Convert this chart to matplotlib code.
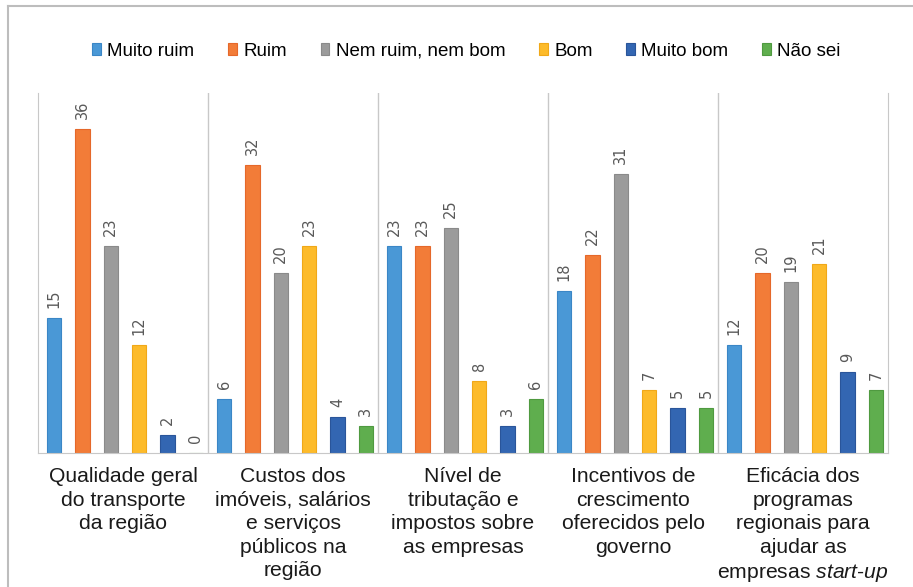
import numpy as np
import matplotlib.pyplot as plt
from matplotlib.lines import Line2D

plt.rcParams['font.family'] = ['Liberation Sans', 'DejaVu Sans']
plt.rcParams['mathtext.fontset'] = 'custom'
plt.rcParams['mathtext.rm'] = 'Liberation Sans'
plt.rcParams['mathtext.it'] = 'Liberation Sans:italic'

categories = [
    "Qualidade geral\ndo transporte\nda região",
    "Custos dos\nimóveis, salários\ne serviços\npúblicos na\nregião",
    "Nível de\ntributação e\nimpostos sobre\nas empresas",
    "Incentivos de\ncrescimento\noferecidos pelo\ngoverno",
    "Eficácia dos\nprogramas\nregionais para\najudar as\nempresas $\\mathit{start}$-$\\mathit{up}$",
]
series = ["Muito ruim", "Ruim", "Nem ruim, nem bom", "Bom", "Muito bom", "Não sei"]
muito_ruim = [15, 6, 23, 18, 12]
ruim = [36, 32, 23, 22, 20]
nem = [23, 20, 25, 31, 19]
bom = [12, 23, 8, 7, 21]
muito_bom = [2, 4, 3, 5, 9]
nao_sei = [0, 3, 6, 5, 7]
values = [muito_ruim, ruim, nem, bom, muito_bom, nao_sei]

colors = ["#4a98d6", "#f27c38", "#9b9b9b", "#fdbb2a", "#3366b2", "#5fae4e"]
edges = ["#3a86c6", "#e5682a", "#8a8a8a", "#f0a818", "#2a559a", "#4f9a40"]

fig = plt.figure(figsize=(9.13, 5.87), dpi=100)
ax = fig.add_axes([38 / 913, 134 / 587, 850 / 913, 360 / 587])

n = len(series)
width = 0.5 / n
x = np.arange(len(categories))
for j, (name, vals) in enumerate(zip(series, values)):
    pos = x + (j + 0.5) / n + 0.012
    bars = ax.bar(pos, vals, width, color=colors[j], edgecolor=edges[j],
                  linewidth=0.8, label=name, zorder=2)
    for b, v in zip(bars, vals):
        ax.text(b.get_x() + b.get_width() / 2, v + 1.1, str(v), rotation=90,
                ha="center", va="bottom", fontsize=10.5, color="#595959",
                family="DejaVu Sans")

ax.set_xlim(0, len(categories))
ax.set_ylim(0, 40)
ax.set_yticks([])
for k in range(1, len(categories)):
    ax.axvline(k, color="#c8c8c8", linewidth=1, zorder=1)
ax.spines["top"].set_visible(False)
for s in ["left", "right", "bottom"]:
    ax.spines[s].set_color("#c8c8c8")
ax.set_xticks(x + 0.5)
ax.set_xticklabels(categories, fontsize=15.2, color="#1a1a1a", linespacing=1.31)
ax.tick_params(axis="x", length=0, pad=10)

leg = fig.legend(loc="center", bbox_to_anchor=(0.511, 0.913), ncol=6,
                 frameon=False, fontsize=13.5, handlelength=0.45, handleheight=0.6,
                 handletextpad=0.35, columnspacing=1.8)

# outer frame of the picture
fig.add_artist(Line2D([8 / 913, 8 / 913], [0, 1 - 6 / 587], transform=fig.transFigure,
                      color="#bdbdbd", linewidth=1.5))
fig.add_artist(Line2D([8 / 913, 1], [1 - 6 / 587, 1 - 6 / 587], transform=fig.transFigure,
                      color="#bdbdbd", linewidth=1.5))

fig.savefig("out.png", dpi=100)
